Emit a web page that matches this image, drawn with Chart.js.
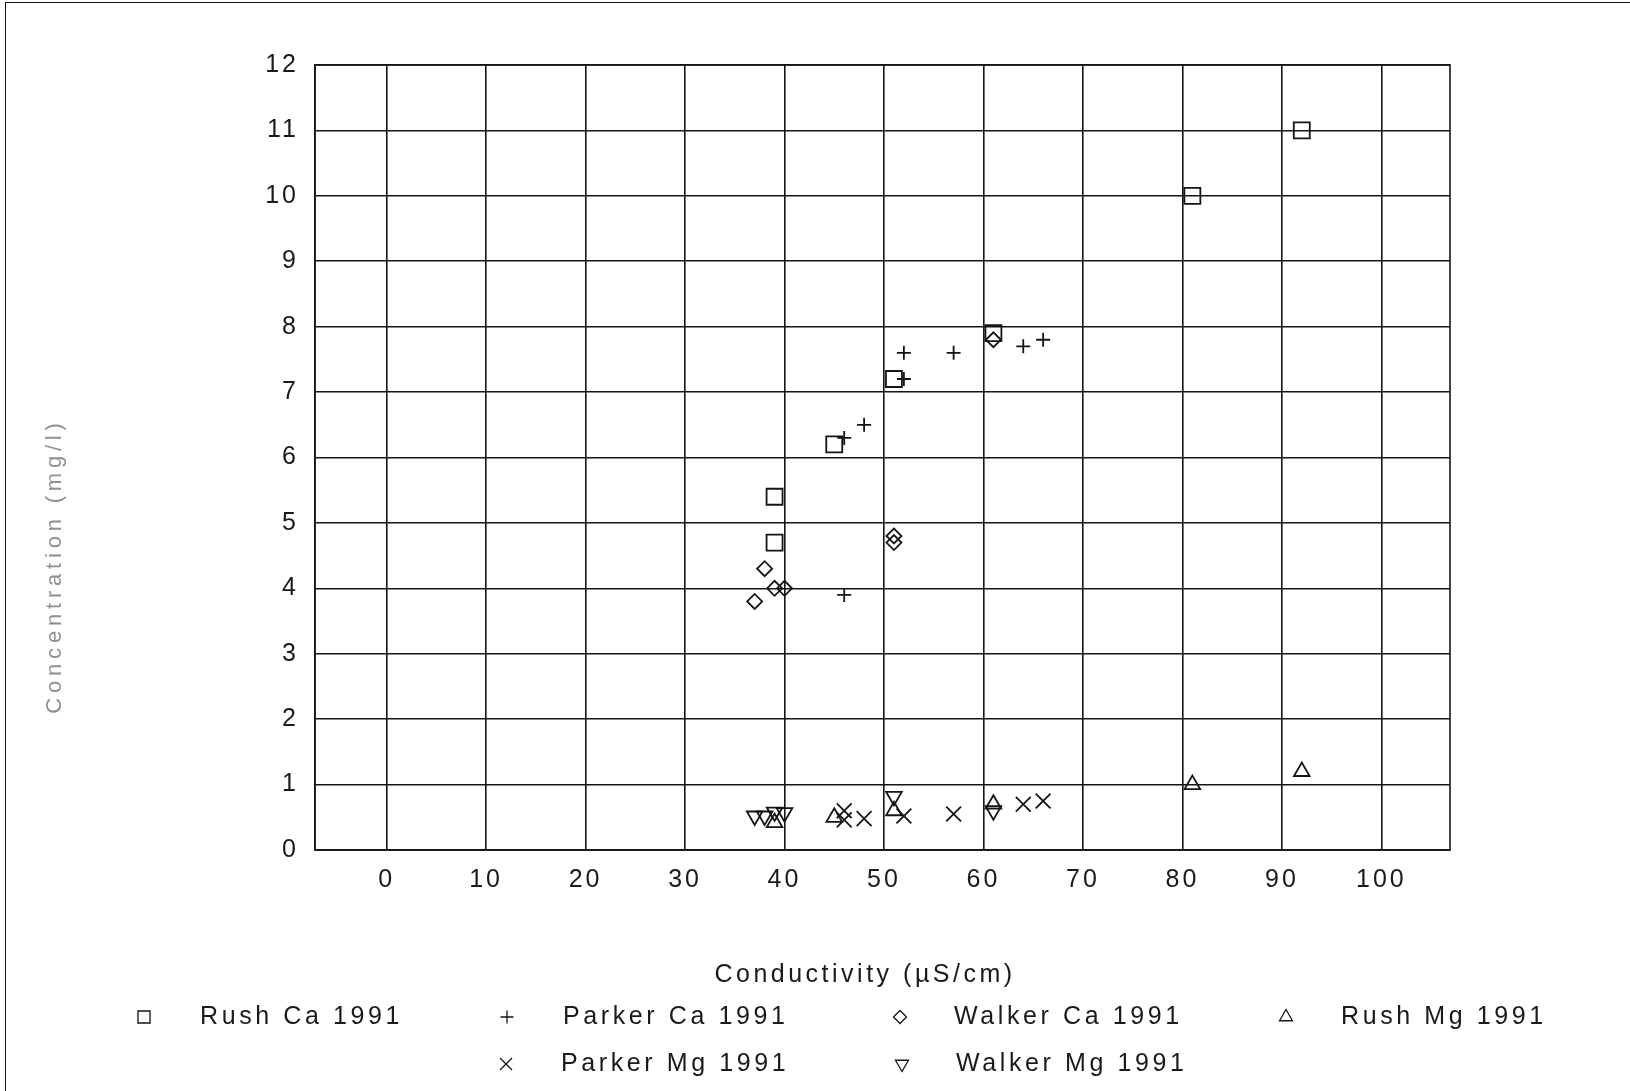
<!DOCTYPE html>
<html>
<head>
<meta charset="utf-8">
<script src="https://cdn.jsdelivr.net/npm/chart.js@4.4.1/dist/chart.umd.min.js"></script>
<style>
html,body{margin:0;padding:0;background:#fff;}
#wrap{position:relative;width:1630px;height:1091px;overflow:hidden;}
#c{position:absolute;left:0;top:0;}
#frame{position:absolute;left:5px;top:2px;width:1640px;height:1100px;border-top:1.5px solid #111;border-left:1.5px solid #111;pointer-events:none;}
</style>
</head>
<body>
<div id="wrap">
<canvas id="c" width="1630" height="1091"></canvas>
<div id="frame"></div>
</div>
<script>
// ---- data ----
const seriesNames = ['Rush Ca 1991','Parker Ca 1991','Walker Ca 1991','Rush Mg 1991','Parker Mg 1991','Walker Mg 1991'];

const rushCaX   = [39, 39, 45, 51, 61, 81, 92];
const rushCaY   = [5.4, 4.7, 6.2, 7.2, 7.9, 10, 11];

const parkerCaX = [46, 46, 48, 52, 52, 57, 64, 66];
const parkerCaY = [3.9, 6.3, 6.5, 7.2, 7.6, 7.6, 7.7, 7.8];

const walkerCaX = [37, 38, 39, 40, 51, 51, 61];
const walkerCaY = [3.8, 4.3, 4.0, 4.0, 4.7, 4.8, 7.8];

const rushMgX   = [39, 45, 51, 61, 81, 92];
const rushMgY   = [0.42, 0.5, 0.6, 0.7, 1.0, 1.2];

const parkerMgX = [46, 46, 48, 52, 57, 64, 66];
const parkerMgY = [0.6, 0.46, 0.48, 0.52, 0.55, 0.7, 0.75];

const walkerMgX = [37, 38, 39, 40, 51, 61];
const walkerMgY = [0.52, 0.52, 0.58, 0.57, 0.82, 0.6];

const xTickValues = [0, 10, 20, 30, 40, 50, 60, 70, 80, 90, 100];
const yTickValues = [0, 1, 2, 3, 4, 5, 6, 7, 8, 9, 10, 11, 12];

const xTitle = 'Conductivity (\u00b5S/cm)';
const yTitle = 'Concentration (mg/l)';

// ---- styles (not data) ----
const INK = '#151515';
const styles = [
  {pointStyle:'rect',     rotation:0,   radius:11.3, legendRadius:8.5},
  {pointStyle:'cross',    rotation:0,   radius:7,    legendRadius:6.5},
  {pointStyle:'rectRot',  rotation:0,   radius:7.5,  legendRadius:6.5},
  {pointStyle:'triangle', rotation:0,   radius:9,    legendRadius:7.5},
  {pointStyle:'crossRot', rotation:0,   radius:10.5, legendRadius:8.5},
  {pointStyle:'triangle', rotation:180, radius:9,    legendRadius:7.5}
];
const legendPos = [
  {sx:144, tx:200, y:1017},
  {sx:507, tx:563, y:1017},
  {sx:900, tx:954, y:1017},
  {sx:1286, tx:1341, y:1017},
  {sx:506, tx:561, y:1064},
  {sx:902, tx:956, y:1064}
];

const xs = [rushCaX, parkerCaX, walkerCaX, rushMgX, parkerMgX, walkerMgX];
const ys = [rushCaY, parkerCaY, walkerCaY, rushMgY, parkerMgY, walkerMgY];

const datasets = seriesNames.map((name, i) => ({
  label: name,
  data: xs[i].map((x, k) => ({x: x, y: ys[i][k]})),
  showLine: false,
  pointStyle: styles[i].pointStyle,
  pointRotation: styles[i].rotation,
  pointRadius: styles[i].radius,
  pointHoverRadius: styles[i].radius,
  pointBorderColor: INK,
  pointBackgroundColor: 'rgba(0,0,0,0)',
  pointBorderWidth: 1.8
}));

const FONT = '"Liberation Sans", Arial, sans-serif';

const extras = {
  id: 'extras',
  beforeDraw(chart) {
    chart.ctx.letterSpacing = '3px';
  },
  beforeDatasetsDraw(chart) {
    const ctx = chart.ctx, a = chart.chartArea;
    ctx.save();
    ctx.strokeStyle = INK;
    ctx.lineWidth = 1.6;
    ctx.strokeRect(a.left, a.top, a.right - a.left, a.bottom - a.top);
    ctx.restore();
  },
  afterDraw(chart) {
    const ctx = chart.ctx;
    ctx.save();
    // x title
    ctx.fillStyle = '#1a1a1a';
    ctx.font = '25px ' + FONT;
    ctx.letterSpacing = '3.5px';
    ctx.textAlign = 'center';
    ctx.textBaseline = 'middle';
    ctx.fillText(xTitle, 865, 975);
    // y title
    ctx.save();
    ctx.translate(55, 566);
    ctx.rotate(-Math.PI / 2);
    ctx.fillStyle = '#909090';
    ctx.font = '22px ' + FONT;
    ctx.letterSpacing = '4.8px';
    ctx.fillText(yTitle, 0, 0);
    ctx.restore();
    // legend
    ctx.font = '25px ' + FONT;
    ctx.letterSpacing = '3.6px';
    ctx.textAlign = 'left';
    chart.data.datasets.forEach((ds, i) => {
      const p = legendPos[i], s = styles[i];
      ctx.strokeStyle = INK;
      ctx.fillStyle = 'rgba(0,0,0,0)';
      ctx.lineWidth = 1.3;
      Chart.helpers.drawPoint(ctx, {
        pointStyle: s.pointStyle,
        rotation: s.rotation,
        radius: s.legendRadius,
        borderWidth: 1.3
      }, p.sx, p.y);
      ctx.fillStyle = '#1a1a1a';
      ctx.fillText(ds.label, p.tx, p.y);
    });
    ctx.restore();
  }
};

new Chart(document.getElementById('c'), {
  type: 'scatter',
  data: {datasets: datasets},
  plugins: [extras],
  options: {
    responsive: false,
    animation: false,
    events: [],
    layout: {padding: {left: 0, top: 65, right: 180, bottom: 181}},
    plugins: {legend: {display: false}, tooltip: {enabled: false}, title: {display: false}},
    scales: {
      x: {
        type: 'linear',
        min: -7.2,
        max: 106.9,
        afterBuildTicks: s => { s.ticks = xTickValues.map(v => ({value: v})); },
        afterFit: s => { s.height = 60; },
        grid: {color: INK, lineWidth: 1.6, drawTicks: false},
        border: {display: true, color: INK, width: 1.6},
        ticks: {padding: 15, color: '#1a1a1a', font: {family: FONT, size: 25}, maxRotation: 0}
      },
      y: {
        type: 'linear',
        min: 0,
        max: 12,
        afterBuildTicks: s => { s.ticks = yTickValues.map(v => ({value: v})); },
        afterFit: s => { s.width = 315; },
        grid: {color: INK, lineWidth: 1.6, drawTicks: false},
        border: {display: true, color: INK, width: 1.6},
        ticks: {padding: 16, color: '#1a1a1a', font: {family: FONT, size: 25}}
      }
    }
  }
});
</script>
</body>
</html>
